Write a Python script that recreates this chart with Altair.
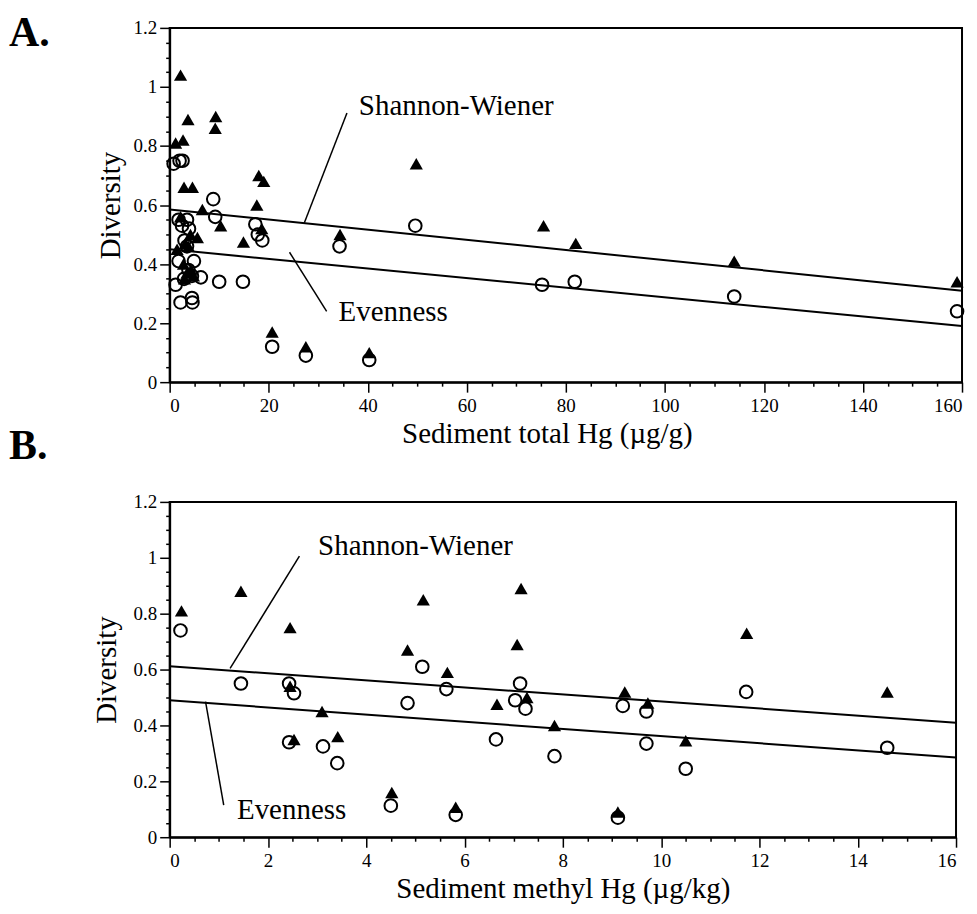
import altair as alt
import pandas as pd

SERIF = "Liberation Serif"

# ---------------- Panel A: sediment total Hg (ug/g) ----------------
a_sw_hg = [1.2, 2.2, 2.7, 3.7, 9.3, 9.2, 2.9, 4.6, 6.6, 10.3, 18.0, 19.0, 17.6, 18.6,
           14.9, 5.6, 2.2, 3.2, 4.2, 3.8, 2.8, 3.5, 4.3, 3.0, 4.8, 1.5, 20.7, 27.5,
           40.3, 34.4, 49.8, 75.5, 82.0, 114.0, 159.0]
a_sw_div = [0.81, 1.04, 0.82, 0.89, 0.90, 0.86, 0.66, 0.66, 0.585, 0.53, 0.70, 0.68, 0.60, 0.52,
            0.475, 0.49, 0.56, 0.47, 0.50, 0.46, 0.40, 0.37, 0.38, 0.35, 0.36, 0.45, 0.17, 0.12,
            0.10, 0.50, 0.74, 0.53, 0.47, 0.41, 0.34]
a_ev_hg = [0.8, 2.0, 2.6, 8.8, 9.2, 1.8, 3.5, 3.9, 2.5, 17.3, 17.8, 18.7, 49.6, 34.3,
           3.0, 3.5, 1.8, 4.9, 1.2, 6.3, 4.5, 2.9, 10.0, 14.8, 2.2, 4.6, 4.5, 20.7,
           27.5, 40.3, 75.2, 81.8, 114.0, 159.0, 3.8]
a_ev_div = [0.74, 0.75, 0.75, 0.62, 0.56, 0.55, 0.55, 0.52, 0.53, 0.535, 0.50, 0.48, 0.53, 0.46,
            0.48, 0.46, 0.41, 0.41, 0.33, 0.355, 0.36, 0.35, 0.34, 0.34, 0.27, 0.27, 0.285, 0.12,
            0.09, 0.075, 0.33, 0.34, 0.29, 0.24, 0.38]
a_fit_hg = [0, 160]
a_fit_sw = [0.585, 0.31]
a_fit_ev = [0.45, 0.19]

# ---------------- Panel B: sediment methyl Hg (ug/kg) ----------------
b_sw_mehg = [0.24, 1.45, 2.45, 2.45, 2.53, 3.1, 3.42, 4.52, 4.84, 5.16, 5.65, 5.82,
             6.66, 7.07, 7.15, 7.27, 7.83, 9.12, 9.26, 9.73, 10.5, 11.74, 14.6]
b_sw_div = [0.81, 0.88, 0.75, 0.54, 0.35, 0.45, 0.36, 0.16, 0.67, 0.85, 0.59, 0.107,
            0.476, 0.69, 0.89, 0.50, 0.40, 0.09, 0.52, 0.48, 0.345, 0.73, 0.52]
b_ev_mehg = [0.22, 1.45, 2.43, 2.53, 2.43, 3.12, 3.41, 4.5, 4.84, 5.14, 5.63, 5.82,
             6.64, 7.13, 7.03, 7.24, 7.83, 9.22, 9.7, 9.7, 10.5, 9.12, 11.73, 14.6]
b_ev_div = [0.74, 0.55, 0.55, 0.515, 0.34, 0.325, 0.265, 0.113, 0.48, 0.61, 0.53, 0.08,
            0.35, 0.55, 0.49, 0.46, 0.29, 0.47, 0.45, 0.335, 0.245, 0.07, 0.52, 0.32]
b_fit_mehg = [0, 16]
b_fit_sw = [0.612, 0.41]
b_fit_ev = [0.49, 0.285]

# tick values
y_major = [0, 0.2, 0.4, 0.6, 0.8, 1.0, 1.2]
y_minor = [v / 100 for v in range(5, 120, 5) if v % 20 != 0]
a_x_major = [0, 20, 40, 60, 80, 100, 120, 140, 160]
a_x_minor = [v for v in range(5, 160, 5) if v % 20 != 0]
b_x_major = [0, 2, 4, 6, 8, 10, 12, 14, 16]
b_x_minor = [v / 2 for v in range(1, 32) if v % 4 != 0]

# annotations (label text, x, y) and leader lines (x, y, x2, y2)
a_notes = ["Shannon-Wiener", "Evenness"]
a_notes_x = [38.2, 34.1]
a_notes_y = [0.905, 0.206]
a_lead = [[35.8, 0.912, 27.2, 0.54], [24.2, 0.44, 31.7, 0.24]]
b_notes = ["Shannon-Wiener", "Evenness"]
b_notes_x = [3.02, 1.37]
b_notes_y = [1.01, 0.065]
b_lead = [[2.64, 1.006, 1.23, 0.604], [0.73, 0.485, 1.10, 0.115]]

LBL = dict(labelFont=SERIF, labelFontSize=19, labelColor="black",
           titleFont=SERIF, titleFontSize=29, titleFontWeight="normal", titleColor="black",
           domainColor="black", tickColor="black")


def panel(sw_x, sw_y, ev_x, ev_y, fit_x, fit_sw, fit_ev, xmax, xmaj, xmin, xtitle,
          w, h, notes, notes_x, notes_y, lead, tag, tag_x, tag_y, ytpad, xtitle_x):
    xs = alt.Scale(domain=[0, xmax], nice=False, zero=False)
    ys = alt.Scale(domain=[0, 1.2], nice=False, zero=False)
    sw = pd.DataFrame({"x": sw_x, "y": sw_y})
    ev = pd.DataFrame({"x": ev_x, "y": ev_y})
    fit = pd.DataFrame({"x": fit_x + fit_x, "y": fit_sw + fit_ev,
                        "s": ["sw", "sw", "ev", "ev"]})
    nt = pd.DataFrame({"x": notes_x, "y": notes_y, "t": notes})
    ld = pd.DataFrame(lead, columns=["x", "y", "x2", "y2"])
    tg = pd.DataFrame({"t": [tag]})

    def nx():
        return alt.X("x:Q", scale=xs, axis=None)

    def ny():
        return alt.Y("y:Q", scale=ys, axis=None)

    minor = alt.Chart(sw).mark_point(opacity=0).encode(
        x=alt.X("x:Q", scale=xs, axis=alt.Axis(values=xmin, labels=False, domain=False,
                                                grid=False, tickSize=4, tickWidth=1.5,
                                                title=None, orient="bottom", **LBL)),
        y=alt.Y("y:Q", scale=ys, axis=alt.Axis(values=y_minor, labels=False, domain=False,
                                                grid=False, tickSize=4, tickWidth=1.5,
                                                title=None, orient="left", **LBL)),
    )
    lines = alt.Chart(fit).mark_line(color="black", strokeWidth=2).encode(
        x=nx(), y=ny(), detail="s:N")
    leaders = alt.Chart(ld).mark_rule(color="black", strokeWidth=1.5).encode(
        x=nx(), y=ny(), x2="x2:Q", y2="y2:Q")
    xaxis = dict(values=xmaj, title=xtitle, orient="bottom", grid=False, tickSize=10,
                 tickWidth=1.5, labelPadding=4, titlePadding=4, domainWidth=2,
                 format="~r", **LBL)
    if xtitle_x is not None:
        xaxis["titleX"] = xtitle_x
    tri = alt.Chart(sw).mark_point(shape="triangle-up", filled=True, color="black",
                                   size=175, opacity=1).encode(
        x=alt.X("x:Q", scale=xs, axis=alt.Axis(**xaxis)),
        y=alt.Y("y:Q", scale=ys, axis=alt.Axis(values=y_major, title="Diversity",
                                                orient="left", grid=False, format="~r",
                                                tickSize=10, tickWidth=1.5, labelPadding=3,
                                                titlePadding=ytpad, domainWidth=2, **LBL)),
    )
    circ = alt.Chart(ev).mark_point(shape="circle", filled=False, color="black",
                                    strokeWidth=2, size=160, opacity=1).encode(
        x=nx(), y=ny())
    txt = alt.Chart(nt).mark_text(font=SERIF, fontSize=29, align="left",
                                  baseline="alphabetic", color="black").encode(
        x=nx(), y=ny(), text="t:N")
    tagm = alt.Chart(tg).mark_text(font=SERIF, fontSize=42, fontWeight="bold",
                                   align="left", baseline="alphabetic", color="black").encode(
        x=alt.value(tag_x), y=alt.value(tag_y), text="t:N")
    return alt.layer(minor, lines, leaders, tri, circ, txt, tagm).resolve_axis(
        x="independent", y="independent").properties(width=w, height=h)


chart_a = panel(a_sw_hg, a_sw_div, a_ev_hg, a_ev_div, a_fit_hg, a_fit_sw, a_fit_ev, 160,
                a_x_major, a_x_minor, "Sediment total Hg (µg/g)", 794, 355,
                a_notes, a_notes_x, a_notes_y, a_lead, "A.", -161, 18, 8, 378)
chart_b = panel(b_sw_mehg, b_sw_div, b_ev_mehg, b_ev_div, b_fit_mehg, b_fit_sw, b_fit_ev, 16,
                b_x_major, b_x_minor, "Sediment methyl Hg (µg/kg)", 788, 336,
                b_notes, b_notes_x, b_notes_y, b_lead, "B.", -161, -43, 12, None)

chart = alt.concat(chart_a, chart_b, columns=1, spacing=-25).properties(
    padding={"top": 2, "left": 0, "right": 0, "bottom": 0}
).configure_view(
    stroke="black", strokeWidth=2
)

chart.save("out.html", embed_options={"renderer": "svg", "actions": False})
